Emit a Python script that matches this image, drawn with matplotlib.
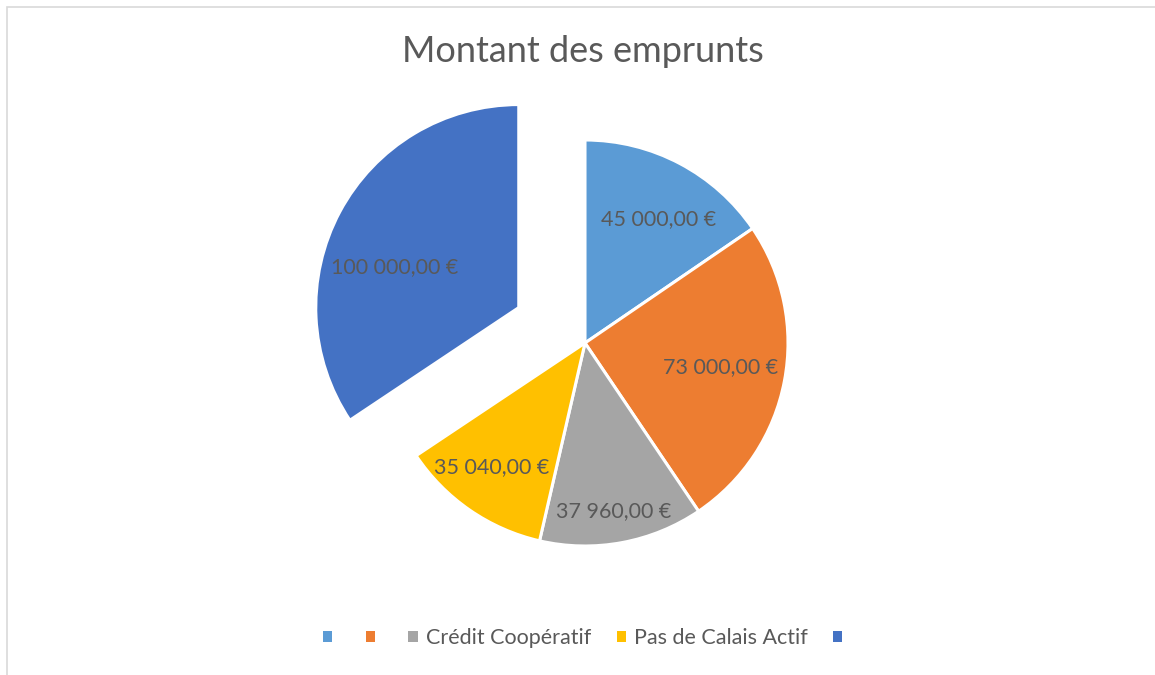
import math
import numpy as np
import matplotlib
matplotlib.use("Agg")
import matplotlib.pyplot as plt
from matplotlib.patches import Rectangle

plt.rcParams.update({"font.family": ["Lato", "DejaVu Sans"]})

# data
values = [45000, 73000, 37960, 35040, 100000]
labels = ["", "", "Crédit Coopératif", "Pas de Calais Actif", ""]
value_texts = ["45 000,00 €", "73 000,00 €", "37 960,00 €", "35 040,00 €", "100 000,00 €"]
colors = ["#5B9BD5", "#ED7D31", "#A5A5A5", "#FFC000", "#4472C4"]
explode_frac = [0, 0, 0, 0, 0.37]
# value label offset from each wedge's centre, in radius units (as Excel placed them)
label_off = [(0.36, 0.61), (0.67, -0.12), (0.14, -0.83), (-0.46, -0.61), (-0.61, 0.20)]
TXT = "#595959"

W, H = 1155, 675
fig = plt.figure(figsize=(W / 100, H / 100), dpi=100)
ax = fig.add_axes([0, 0, 1, 1])
ax.set_xlim(0, W); ax.set_ylim(0, H); ax.axis("off")

# chart frame (only top/left visible in the crop)
ax.add_patch(Rectangle((6.5, -20), W + 40, H - 6.5 + 20, fill=False, ec="#D9D9D9", lw=1.2))

cx, cy, R = 585, H - 343, 203
# explode is in data units when radius != 1
wedges, _ = ax.pie(values, colors=colors, explode=[e * R for e in explode_frac], startangle=90,
                   counterclock=False, radius=R, center=(cx, cy),
                   wedgeprops=dict(ec="white", lw=2.2))
ax.set_xlim(0, W); ax.set_ylim(0, H); ax.set_aspect("equal")

for w, txt, (dx, dy) in zip(wedges, value_texts, label_off):
    wx, wy = w.center
    ax.text(wx + dx * R, wy + dy * R, txt, ha="center", va="center", fontsize=15.5, color=TXT)

ax.text(583, H - 51, "Montant des emprunts", ha="center", va="center", fontsize=26, color=TXT)

handles = [Rectangle((0, 0), 1, 1, fc=c, ec="none") for c in colors]
leg = fig.legend(handles, labels, loc="center", bbox_to_anchor=(586.5 / W, 1 - 638 / H), ncol=5,
                 frameon=False, fontsize=15.5, handlelength=0.42, handleheight=0.42,
                 handletextpad=0.37, columnspacing=1.2)
for t in leg.get_texts():
    t.set_color(TXT)

fig.savefig("out.png", dpi=100)
